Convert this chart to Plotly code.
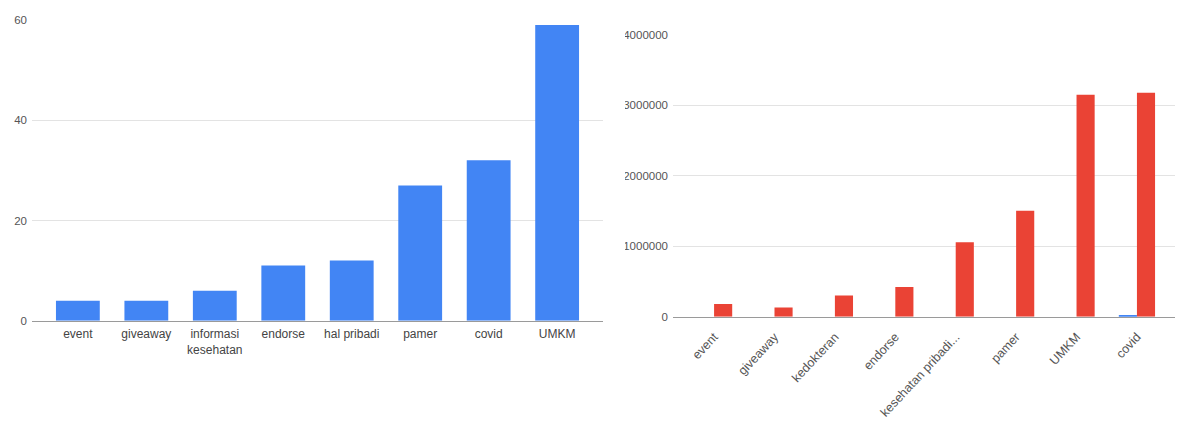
import plotly.graph_objects as go

# Left chart data
left_categories = ["event", "giveaway", "informasi<br>kesehatan", "endorse", "hal pribadi", "pamer", "covid", "UMKM"]
left_values = [4, 4, 6, 11, 12, 27, 32, 59]
left_ticks = [0, 20, 40, 60]

# Right chart data
right_categories = ["event", "giveaway", "kedokteran", "endorse", "kesehatan pribadi...", "pamer", "UMKM", "covid"]
right_blue = [0, 0, 0, 0, 0, 0, 0, 18000]
right_red = [180000, 130000, 300000, 420000, 1057000, 1506000, 3150000, 3180000]
right_ticks = [0, 1000000, 2000000, 3000000, 4000000]

BLUE = "#4285F4"
RED = "#EA4335"
FONT = "Liberation Sans, Arial, sans-serif"
W, H = 1178, 422

fig = go.Figure()
fig.add_trace(go.Bar(x=left_categories, y=left_values, marker_color=BLUE,
                     marker_line_width=0, xaxis="x", yaxis="y", showlegend=False))
fig.add_trace(go.Bar(x=right_categories, y=right_blue, marker_color=BLUE,
                     marker_line_width=0, xaxis="x2", yaxis="y2", showlegend=False,
                     width=0.3, offset=-0.3))
fig.add_trace(go.Bar(x=right_categories, y=right_red, marker_color=RED,
                     marker_line_width=0, xaxis="x2", yaxis="y2", showlegend=False,
                     width=0.3, offset=0.0))

def px_x(p):
    return p / W

def px_y(p):
    return 1 - p / H

fig.update_layout(
    width=W, height=H,
    margin=dict(l=0, r=0, t=0, b=0, pad=0, autoexpand=False),
    paper_bgcolor="white", plot_bgcolor="white",
    font=dict(family=FONT, size=12, color="#444"),
    barmode="overlay",
    bargap=0.36,
    xaxis=dict(domain=[px_x(32), px_x(603)], range=[-0.67, 7.67], automargin=False,
               showgrid=False, showline=True, linecolor="#9a9a9a", linewidth=1,
               ticks="", ticklabelstandoff=2, tickfont=dict(size=12, color="#444"),
               anchor="y"),
    yaxis=dict(domain=[px_y(320.7), px_y(20)], range=[0, 60], tickvals=left_ticks,
               automargin=False, ticklabelstandoff=4,
               showgrid=True, gridcolor="#e3e3e3", gridwidth=1, zeroline=False,
               ticks="", tickfont=dict(size=11.5, color="#555"), anchor="x"),
    xaxis2=dict(domain=[px_x(673), px_x(1175)], range=[-0.68, 7.63], automargin=False,
                showgrid=False, showline=True, linecolor="#9a9a9a", linewidth=1,
                ticks="", tickangle=-47, ticklabelstandoff=7,
                tickfont=dict(size=12.5, color="#555"), anchor="y2"),
    yaxis2=dict(domain=[px_y(316.7), px_y(35)], range=[0, 4000000], tickvals=right_ticks,
                automargin=False, ticklabelstandoff=4,
                tickformat="d", showgrid=True, gridcolor="#e3e3e3", gridwidth=1,
                zeroline=False, ticks="", tickfont=dict(size=11.5, color="#555"),
                anchor="x2"),
    shapes=[dict(type="rect", xref="paper", yref="paper",
                 x0=px_x(604), x1=px_x(625), y0=0, y1=1,
                 fillcolor="white", line_width=0, layer="above")],
)

fig.write_html("out.html")
